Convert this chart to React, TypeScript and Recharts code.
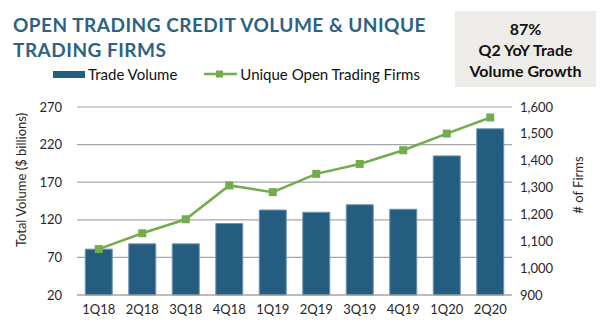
import {
  Bar,
  CartesianGrid,
  ComposedChart,
  Legend,
  Line,
  XAxis,
  YAxis,
} from "recharts";

const quarters = ["1Q18", "2Q18", "3Q18", "4Q18", "1Q19", "2Q19", "3Q19", "4Q19", "1Q20", "2Q20"];
const tradeVolume = [81, 88, 88, 115, 133, 130, 140, 134, 205, 241];
const uniqueFirms = [1071, 1130, 1182, 1308, 1283, 1351, 1388, 1439, 1501, 1561];
const volumeTicks = [20, 70, 120, 170, 220, 270];
const firmTicks = [900, 1000, 1100, 1200, 1300, 1400, 1500, 1600];

const data = quarters.map((q, i) => ({
  quarter: q,
  volume: tradeVolume[i],
  firms: uniqueFirms[i],
}));

const BLUE = "#245d80";
const GREEN = "#72ac4d";
const FONT = "Lato, 'Open Sans', sans-serif";
const tick = { fontSize: 13, fill: "#262626", fontFamily: FONT };

function SquareDot(props: any) {
  const { cx, cy, index } = props;
  if (cx == null || cy == null) return null;
  return <rect key={`dot-${index}`} x={cx - 4} y={cy - 4} width={8} height={8} fill={GREEN} />;
}

function LegendContent(props: any) {
  const items = props.payload || [];
  return (
    <div style={{ display: "flex", alignItems: "center", fontFamily: FONT, fontSize: 15, color: "#111" }}>
      {items.map((item: any) =>
        item.type === "rect" ? (
          <div key={item.value} style={{ display: "flex", alignItems: "center", marginRight: 27 }}>
            <div style={{ width: 32, height: 7, background: BLUE, marginRight: 3 }} />
            <span>{item.value}</span>
          </div>
        ) : (
          <div key={item.value} style={{ display: "flex", alignItems: "center" }}>
            <svg width={34} height={10} style={{ marginRight: 2 }}>
              <line x1={0} y1={5} x2={33} y2={5} stroke={GREEN} strokeWidth={2.5} />
              <rect x={12} y={1.5} width={7} height={7} fill={GREEN} />
            </svg>
            <span>{item.value}</span>
          </div>
        )
      )}
    </div>
  );
}

export default function App() {
  return (
    <div style={{ position: "absolute", left: 0, top: 0, width: 602, height: 332, background: "#fff" }}>
      <div
        style={{
          position: "absolute",
          left: 13,
          top: 12,
          fontFamily: FONT,
          fontWeight: 700,
          fontSize: 19,
          lineHeight: "25px",
          letterSpacing: 0.5,
          color: "#2c6283",
        }}
      >
        OPEN TRADING CREDIT VOLUME &amp; UNIQUE
        <br />
        TRADING FIRMS
      </div>
      <div
        style={{
          position: "absolute",
          left: 455,
          top: 11,
          width: 141,
          height: 76,
          background: "#edece8",
          boxSizing: "border-box",
          paddingTop: 7,
          textAlign: "center",
          fontFamily: FONT,
          fontWeight: 700,
          fontSize: 16,
          lineHeight: "21px",
          color: "#111",
        }}
      >
        87%
        <br />
        Q2 YoY Trade
        <br />
        Volume Growth
      </div>
      <ComposedChart
        width={602}
        height={332}
        data={data}
        margin={{ top: 107, right: 0, bottom: 0, left: 0 }}
        barCategoryGap="19%"
      >
        <CartesianGrid vertical={false} stroke="#a6a6a6" strokeWidth={1.2} yAxisId="left" />
        <XAxis
          dataKey="quarter"
          height={37}
          tick={tick}
          tickLine={false}
          axisLine={{ stroke: "#a6a6a6", strokeWidth: 1.2 }}
          tickMargin={4}
        />
        <YAxis
          yAxisId="left"
          orientation="left"
          width={77}
          domain={[20, 270]}
          ticks={volumeTicks}
          tick={tick}
          tickLine={false}
          axisLine={false}
          tickMargin={9}
        />
        <YAxis
          yAxisId="right"
          orientation="right"
          width={90}
          domain={[900, 1600]}
          ticks={firmTicks}
          tick={{ ...tick, textAnchor: "start" }}
          tickLine={false}
          axisLine={false}
          tickMargin={2}
          tickFormatter={(v: number) => v.toLocaleString("en-US")}
        />
        <Legend
          verticalAlign="middle"
          align="center"
          layout="horizontal"
          wrapperStyle={{ position: "absolute", top: 65, left: 53, width: "auto", height: "auto" }}
          content={LegendContent}
        />
        <Bar
          yAxisId="left"
          dataKey="volume"
          name="Trade Volume"
          fill={BLUE}
          stroke="#6f94ad"
          strokeWidth={1}
          legendType="rect"
          isAnimationActive={false}
        />
        <Line
          yAxisId="right"
          dataKey="firms"
          name="Unique Open Trading Firms"
          stroke={GREEN}
          strokeWidth={2.5}
          dot={SquareDot}
          activeDot={false}
          legendType="line"
          isAnimationActive={false}
        />
      </ComposedChart>
      <svg
        width={602}
        height={332}
        style={{ position: "absolute", left: 0, top: 0, pointerEvents: "none" }}
      >
        <text
          x={21}
          y={180}
          transform="rotate(-90 21 180)"
          textAnchor="middle"
          dominantBaseline="central"
          fontFamily={FONT}
          fontSize={13}
          fill="#262626"
        >
          Total Volume ($ billions)
        </text>
        <text
          x={578}
          y={185}
          transform="rotate(-90 578 185)"
          textAnchor="middle"
          dominantBaseline="central"
          fontFamily={FONT}
          fontSize={13}
          fill="#262626"
        >
          # of Firms
        </text>
      </svg>
    </div>
  );
}
